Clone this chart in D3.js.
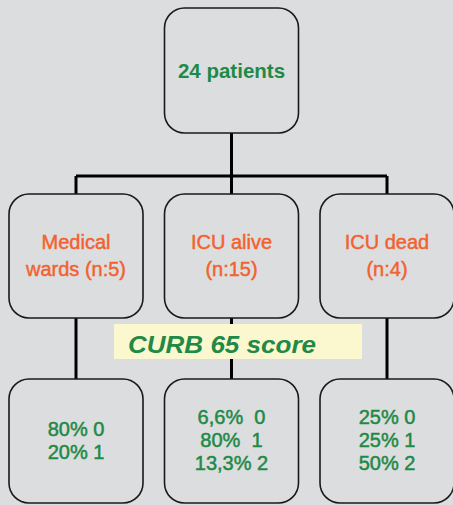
<!DOCTYPE html>
<html><head><meta charset="utf-8">
<script src="https://cdn.jsdelivr.net/npm/d3@7"></script>
<style>html,body{margin:0;padding:0;background:#dcdddf;}svg{display:block;}</style>
</head><body>
<script>
const rootLabel = "24 patients";
const groups = ["Medical", "ICU alive", "ICU dead"];
const groupLine2 = ["wards (n:5)", "(n:15)", "(n:4)"];
const groupCounts = [5, 15, 4];
const scoreTitle = "CURB 65 score";
const scoreLines = [
  ["80% 0", "20% 1"],
  ["6,6%  0", "80%  1", "13,3% 2"],
  ["25% 0", "25% 1", "50% 2"]
];

const W = 453, H = 505;
const green = "#1f8a46", orange = "#f2622e";
const svg = d3.select("body").append("svg").attr("width", W).attr("height", H);
svg.append("rect").attr("width", W).attr("height", H).attr("fill", "#dcdddf");

const x = d3.scalePoint().domain(groups).range([76, 387]);
const bw = 134, r = 20;
const root = {x: 231.5, y0: 8, y1: 133};
const midY = [194, 318], botY = [379, 503], barY = 176;

const lines = svg.append("g").attr("stroke", "#000").attr("stroke-width", 3).attr("fill", "none");
lines.append("line").attr("x1", root.x).attr("x2", root.x).attr("y1", root.y1).attr("y2", barY);
lines.append("line").attr("x1", x(groups[0])).attr("x2", x(groups[2])).attr("y1", barY).attr("y2", barY);
groups.forEach(g => {
  lines.append("line").attr("x1", x(g)).attr("x2", x(g)).attr("y1", barY).attr("y2", midY[0]);
  lines.append("line").attr("x1", x(g)).attr("x2", x(g)).attr("y1", midY[1]).attr("y2", botY[0]);
});

function box(cx, y0, y1) {
  svg.append("rect").attr("x", cx - bw / 2).attr("y", y0).attr("width", bw).attr("height", y1 - y0)
    .attr("rx", r).attr("ry", r).attr("fill", "#dcdddf").attr("stroke", "#1a1a1a").attr("stroke-width", 1.6);
}
box(root.x, root.y0, root.y1);
svg.append("text").attr("x", root.x).attr("y", 78).attr("text-anchor", "middle")
  .attr("font-family", "Liberation Sans, Arial, sans-serif").attr("font-weight", "bold")
  .attr("font-size", 20.5).attr("fill", green).text(rootLabel);

groups.forEach((g, i) => {
  const cx = x(g);
  box(cx, midY[0], midY[1]);
  box(cx, botY[0], botY[1]);
  const t = svg.append("text").attr("text-anchor", "middle")
    .attr("font-family", "Liberation Sans, Arial, sans-serif").attr("font-size", 20).attr("fill", orange)
    .attr("stroke", orange).attr("stroke-width", 0.45);
  t.append("tspan").attr("x", cx).attr("y", 249).text(g);
  t.append("tspan").attr("x", cx).attr("y", 276).text(groupLine2[i]);
  const ls = scoreLines[i];
  const lh = 23;
  const c = (botY[0] + botY[1]) / 2 - 1;
  const st = svg.append("text").attr("text-anchor", "middle").attr("xml:space", "preserve")
    .style("white-space", "pre")
    .attr("font-family", "Liberation Sans, Arial, sans-serif").attr("font-size", 20).attr("fill", green)
    .attr("stroke", green).attr("stroke-width", 0.5);
  ls.forEach((s, k) => {
    st.append("tspan").attr("x", cx).attr("y", c + (k - (ls.length - 1) / 2) * lh + 7).text(s);
  });
});

svg.append("rect").attr("x", 114).attr("y", 324).attr("width", 248).attr("height", 35).attr("fill", "#fbf8cf");
svg.append("text").attr("x", 128).attr("y", 353).attr("font-family", "Liberation Sans, Arial, sans-serif")
  .attr("font-weight", "bold").attr("font-style", "italic").attr("font-size", 24).attr("fill", green)
  .attr("textLength", 188).attr("lengthAdjust", "spacingAndGlyphs").text(scoreTitle);
</script>
</body></html>
